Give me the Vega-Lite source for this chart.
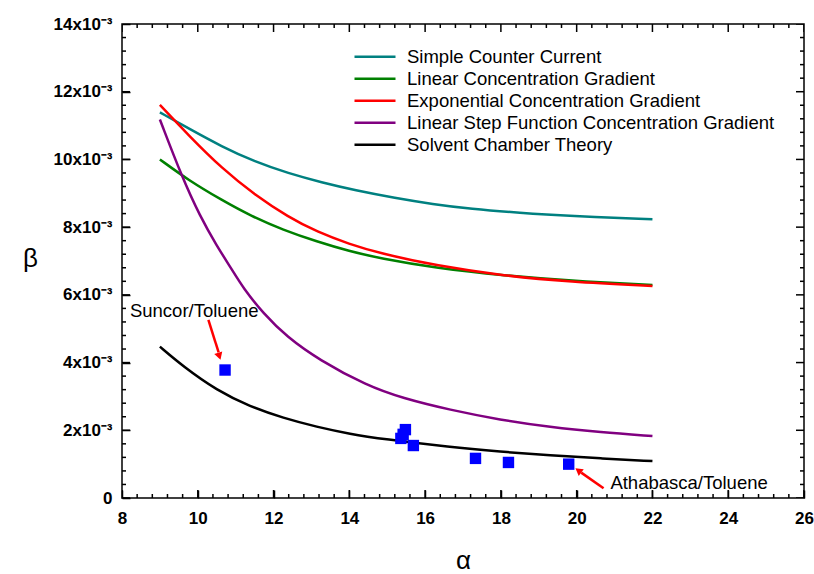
{
  "$schema": "https://vega.github.io/schema/vega-lite/v6.json",
  "width": 682,
  "height": 474,
  "autosize": {"type": "none"},
  "padding": {"left": 122, "top": 24, "right": 10, "bottom": 76},
  "background": "white",
  "config": {
    "view": {"stroke": "black", "strokeWidth": 1.5},
    "font": "Liberation Sans",
    "axis": {
      "domain": false, "ticks": true, "tickColor": "#000000", "tickWidth": 1.5,
      "grid": false, "labelOverlap": false, "labelFlush": false, "labelBound": false,
      "labelFont": "Liberation Sans", "labelFontWeight": "bold", "labelFontSize": 17, "labelColor": "black",
      "titleFont": "Liberation Sans", "titleFontWeight": "normal", "titleFontSize": 26, "titleColor": "black"
    },
    "legend": {
      "orient": "none", "legendX": 231, "legendY": 22, "padding": 0,
      "symbolType": "stroke", "symbolSize": 1681, "symbolStrokeWidth": 2.5,
      "labelFont": "Liberation Sans", "labelFontSize": 18.5, "labelColor": "black", "labelOffset": 10, "labelLimit": 0,
      "clipHeight": 21.7, "rowPadding": 0
    }
  },
  "datasets": {
    "curves": [
      {"series": "Simple Counter Current", "alpha": 9, "beta": 0.01139},
      {"series": "Simple Counter Current", "alpha": 9.75, "beta": 0.01092},
      {"series": "Simple Counter Current", "alpha": 10.63, "beta": 0.01038},
      {"series": "Simple Counter Current", "alpha": 11.51, "beta": 0.00993},
      {"series": "Simple Counter Current", "alpha": 12.39, "beta": 0.00959},
      {"series": "Simple Counter Current", "alpha": 13.27, "beta": 0.00932},
      {"series": "Simple Counter Current", "alpha": 14.15, "beta": 0.00909},
      {"series": "Simple Counter Current", "alpha": 15.21, "beta": 0.00886},
      {"series": "Simple Counter Current", "alpha": 16.2, "beta": 0.00868},
      {"series": "Simple Counter Current", "alpha": 17.2, "beta": 0.00854},
      {"series": "Simple Counter Current", "alpha": 18.5, "beta": 0.00842},
      {"series": "Simple Counter Current", "alpha": 19.8, "beta": 0.00833},
      {"series": "Simple Counter Current", "alpha": 22, "beta": 0.00823},
      {"series": "Linear Concentration Gradient", "alpha": 9, "beta": 0.01000},
      {"series": "Linear Concentration Gradient", "alpha": 9.75, "beta": 0.00939},
      {"series": "Linear Concentration Gradient", "alpha": 10.63, "beta": 0.00880},
      {"series": "Linear Concentration Gradient", "alpha": 11.42, "beta": 0.00832},
      {"series": "Linear Concentration Gradient", "alpha": 12.25, "beta": 0.00792},
      {"series": "Linear Concentration Gradient", "alpha": 13.15, "beta": 0.00757},
      {"series": "Linear Concentration Gradient", "alpha": 14, "beta": 0.00729},
      {"series": "Linear Concentration Gradient", "alpha": 14.8, "beta": 0.00708},
      {"series": "Linear Concentration Gradient", "alpha": 16.3, "beta": 0.00679},
      {"series": "Linear Concentration Gradient", "alpha": 18.1, "beta": 0.00657},
      {"series": "Linear Concentration Gradient", "alpha": 19.8, "beta": 0.00642},
      {"series": "Linear Concentration Gradient", "alpha": 22, "beta": 0.00629},
      {"series": "Exponential Concentration Gradient", "alpha": 9, "beta": 0.01161},
      {"series": "Exponential Concentration Gradient", "alpha": 9.75, "beta": 0.01072},
      {"series": "Exponential Concentration Gradient", "alpha": 10.63, "beta": 0.00974},
      {"series": "Exponential Concentration Gradient", "alpha": 11.51, "beta": 0.00895},
      {"series": "Exponential Concentration Gradient", "alpha": 12.39, "beta": 0.00830},
      {"series": "Exponential Concentration Gradient", "alpha": 13.15, "beta": 0.00786},
      {"series": "Exponential Concentration Gradient", "alpha": 14, "beta": 0.00750},
      {"series": "Exponential Concentration Gradient", "alpha": 14.8, "beta": 0.00723},
      {"series": "Exponential Concentration Gradient", "alpha": 16.3, "beta": 0.00686},
      {"series": "Exponential Concentration Gradient", "alpha": 18.1, "beta": 0.00656},
      {"series": "Exponential Concentration Gradient", "alpha": 19.8, "beta": 0.00639},
      {"series": "Exponential Concentration Gradient", "alpha": 22, "beta": 0.00626},
      {"series": "Linear Step Function Concentration Gradient", "alpha": 9, "beta": 0.01118},
      {"series": "Linear Step Function Concentration Gradient", "alpha": 9.58, "beta": 0.00949},
      {"series": "Linear Step Function Concentration Gradient", "alpha": 10.06, "beta": 0.00832},
      {"series": "Linear Step Function Concentration Gradient", "alpha": 10.5, "beta": 0.00745},
      {"series": "Linear Step Function Concentration Gradient", "alpha": 10.9, "beta": 0.00675},
      {"series": "Linear Step Function Concentration Gradient", "alpha": 11.2, "beta": 0.00620},
      {"series": "Linear Step Function Concentration Gradient", "alpha": 11.73, "beta": 0.00545},
      {"series": "Linear Step Function Concentration Gradient", "alpha": 12.35, "beta": 0.00476},
      {"series": "Linear Step Function Concentration Gradient", "alpha": 13.2, "beta": 0.00408},
      {"series": "Linear Step Function Concentration Gradient", "alpha": 14.46, "beta": 0.00332},
      {"series": "Linear Step Function Concentration Gradient", "alpha": 15.4, "beta": 0.00295},
      {"series": "Linear Step Function Concentration Gradient", "alpha": 16.66, "beta": 0.00260},
      {"series": "Linear Step Function Concentration Gradient", "alpha": 17.98, "beta": 0.00231},
      {"series": "Linear Step Function Concentration Gradient", "alpha": 19.3, "beta": 0.00209},
      {"series": "Linear Step Function Concentration Gradient", "alpha": 20.63, "beta": 0.00194},
      {"series": "Linear Step Function Concentration Gradient", "alpha": 22, "beta": 0.00183},
      {"series": "Solvent Chamber Theory", "alpha": 9, "beta": 0.00447},
      {"series": "Solvent Chamber Theory", "alpha": 9.62, "beta": 0.00388},
      {"series": "Solvent Chamber Theory", "alpha": 10.5, "beta": 0.00318},
      {"series": "Solvent Chamber Theory", "alpha": 11.38, "beta": 0.00270},
      {"series": "Solvent Chamber Theory", "alpha": 12.26, "beta": 0.00236},
      {"series": "Solvent Chamber Theory", "alpha": 13.14, "beta": 0.00210},
      {"series": "Solvent Chamber Theory", "alpha": 14.02, "beta": 0.00189},
      {"series": "Solvent Chamber Theory", "alpha": 14.9, "beta": 0.00174},
      {"series": "Solvent Chamber Theory", "alpha": 16.66, "beta": 0.00150},
      {"series": "Solvent Chamber Theory", "alpha": 17.98, "beta": 0.00137},
      {"series": "Solvent Chamber Theory", "alpha": 19.3, "beta": 0.00126},
      {"series": "Solvent Chamber Theory", "alpha": 20.63, "beta": 0.00117},
      {"series": "Solvent Chamber Theory", "alpha": 22, "beta": 0.00109}
    ],
    "experiments": [
      {"alpha": 10.72, "beta": 0.00378},
      {"alpha": 15.48, "beta": 0.00202},
      {"alpha": 15.42, "beta": 0.00188},
      {"alpha": 15.36, "beta": 0.00176},
      {"alpha": 15.69, "beta": 0.00155},
      {"alpha": 17.33, "beta": 0.00117},
      {"alpha": 18.2, "beta": 0.00105},
      {"alpha": 19.79, "beta": 0.00100}
    ],
    "arrows": [
      {"name": "Suncor/Toluene", "alpha": 10.28, "beta": 0.00526, "alpha2": 10.55, "beta2": 0.00430},
      {"name": "Athabasca/Toluene", "alpha": 20.71, "beta": 0.00029, "alpha2": 20.12, "beta2": 0.00075}
    ],
    "heads": [
      {"name": "Suncor/Toluene", "alpha": 10.56, "beta": 0.00422},
      {"name": "Athabasca/Toluene", "alpha": 20.07, "beta": 0.00079}
    ],
    "notes": [
      {"label": "Suncor/Toluene", "alpha": 8.21, "beta": 0.00552},
      {"label": "Athabasca/Toluene", "alpha": 20.89, "beta": 0.00045}
    ],
    "xticks": [
      {"alpha": 8, "kind": "major"}, {"alpha": 8.4, "kind": "minor"}, {"alpha": 8.8, "kind": "minor"}, {"alpha": 9.2, "kind": "minor"}, {"alpha": 9.6, "kind": "minor"},
      {"alpha": 10, "kind": "major"}, {"alpha": 10.4, "kind": "minor"}, {"alpha": 10.8, "kind": "minor"}, {"alpha": 11.2, "kind": "minor"}, {"alpha": 11.6, "kind": "minor"},
      {"alpha": 12, "kind": "major"}, {"alpha": 12.4, "kind": "minor"}, {"alpha": 12.8, "kind": "minor"}, {"alpha": 13.2, "kind": "minor"}, {"alpha": 13.6, "kind": "minor"},
      {"alpha": 14, "kind": "major"}, {"alpha": 14.4, "kind": "minor"}, {"alpha": 14.8, "kind": "minor"}, {"alpha": 15.2, "kind": "minor"}, {"alpha": 15.6, "kind": "minor"},
      {"alpha": 16, "kind": "major"}, {"alpha": 16.4, "kind": "minor"}, {"alpha": 16.8, "kind": "minor"}, {"alpha": 17.2, "kind": "minor"}, {"alpha": 17.6, "kind": "minor"},
      {"alpha": 18, "kind": "major"}, {"alpha": 18.4, "kind": "minor"}, {"alpha": 18.8, "kind": "minor"}, {"alpha": 19.2, "kind": "minor"}, {"alpha": 19.6, "kind": "minor"},
      {"alpha": 20, "kind": "major"}, {"alpha": 20.4, "kind": "minor"}, {"alpha": 20.8, "kind": "minor"}, {"alpha": 21.2, "kind": "minor"}, {"alpha": 21.6, "kind": "minor"},
      {"alpha": 22, "kind": "major"}, {"alpha": 22.4, "kind": "minor"}, {"alpha": 22.8, "kind": "minor"}, {"alpha": 23.2, "kind": "minor"}, {"alpha": 23.6, "kind": "minor"},
      {"alpha": 24, "kind": "major"}, {"alpha": 24.4, "kind": "minor"}, {"alpha": 24.8, "kind": "minor"}, {"alpha": 25.2, "kind": "minor"}, {"alpha": 25.6, "kind": "minor"},
      {"alpha": 26, "kind": "major"}
    ],
    "yticks": [
      {"beta": 0, "kind": "major"}, {"beta": 0.0004, "kind": "minor"}, {"beta": 0.0008, "kind": "minor"}, {"beta": 0.0012, "kind": "minor"}, {"beta": 0.0016, "kind": "minor"},
      {"beta": 0.002, "kind": "major"}, {"beta": 0.0024, "kind": "minor"}, {"beta": 0.0028, "kind": "minor"}, {"beta": 0.0032, "kind": "minor"}, {"beta": 0.0036, "kind": "minor"},
      {"beta": 0.004, "kind": "major"}, {"beta": 0.0044, "kind": "minor"}, {"beta": 0.0048, "kind": "minor"}, {"beta": 0.0052, "kind": "minor"}, {"beta": 0.0056, "kind": "minor"},
      {"beta": 0.006, "kind": "major"}, {"beta": 0.0064, "kind": "minor"}, {"beta": 0.0068, "kind": "minor"}, {"beta": 0.0072, "kind": "minor"}, {"beta": 0.0076, "kind": "minor"},
      {"beta": 0.008, "kind": "major"}, {"beta": 0.0084, "kind": "minor"}, {"beta": 0.0088, "kind": "minor"}, {"beta": 0.0092, "kind": "minor"}, {"beta": 0.0096, "kind": "minor"},
      {"beta": 0.01, "kind": "major"}, {"beta": 0.0104, "kind": "minor"}, {"beta": 0.0108, "kind": "minor"}, {"beta": 0.0112, "kind": "minor"}, {"beta": 0.0116, "kind": "minor"},
      {"beta": 0.012, "kind": "major"}, {"beta": 0.0124, "kind": "minor"}, {"beta": 0.0128, "kind": "minor"}, {"beta": 0.0132, "kind": "minor"}, {"beta": 0.0136, "kind": "minor"},
      {"beta": 0.014, "kind": "major"}
    ]
  },
  "resolve": {"axis": {"x": "independent", "y": "independent"}},
  "layer": [
    {
      "data": {"name": "curves"},
      "mark": {"type": "line", "strokeWidth": 2.5, "interpolate": "basis"},
      "encoding": {
        "x": {"field": "alpha", "type": "quantitative", "scale": {"domain": [8, 26], "nice": false, "zero": false},
          "axis": {"orient": "bottom", "offset": -8, "tickSize": 8, "labelPadding": 12,
            "title": "α", "titleY": 83, "titleBaseline": "bottom",
            "values": [8, 10, 12, 14, 16, 18, 20, 22, 24, 26], "format": "d"}},
        "y": {"field": "beta", "type": "quantitative", "scale": {"domain": [0, 0.014], "nice": false},
          "axis": {"orient": "left", "offset": -8, "tickSize": 8, "labelPadding": 10,
            "title": "β", "titleAngle": 0, "titleX": -100, "titleY": 234, "titleAlign": "center", "titleBaseline": "middle",
            "values": [0, 0.002, 0.004, 0.006, 0.008, 0.01, 0.012, 0.014],
            "labelExpr": "datum.value == 0 ? '0' : format(datum.value*1000, 'd') + 'x10⁻³'"}},
        "color": {"field": "series", "type": "nominal", "title": null,
          "scale": {"domain": ["Simple Counter Current", "Linear Concentration Gradient", "Exponential Concentration Gradient", "Linear Step Function Concentration Gradient", "Solvent Chamber Theory"],
            "range": ["#008080", "#008000", "#ff0000", "#800080", "#000000"]}}
      }
    },
    {
      "data": {"name": "xticks"},
      "mark": {"type": "tick", "orient": "vertical", "thickness": 1.5, "color": "black", "clip": true, "opacity": 1},
      "encoding": {
        "x": {"field": "alpha", "type": "quantitative", "axis": null},
        "y": {"datum": 0, "type": "quantitative", "axis": null},
        "size": {"field": "kind", "type": "nominal", "scale": {"domain": ["major", "minor"], "range": [16, 8]}, "legend": null}
      }
    },
    {
      "data": {"name": "xticks"},
      "mark": {"type": "tick", "orient": "vertical", "thickness": 1.5, "color": "black", "clip": true, "opacity": 1},
      "encoding": {
        "x": {"field": "alpha", "type": "quantitative", "axis": null},
        "y": {"datum": 0.014, "type": "quantitative", "axis": null},
        "size": {"field": "kind", "type": "nominal", "legend": null}
      }
    },
    {
      "data": {"name": "yticks"},
      "mark": {"type": "tick", "orient": "horizontal", "thickness": 1.5, "color": "black", "clip": true, "opacity": 1},
      "encoding": {
        "y": {"field": "beta", "type": "quantitative", "axis": null},
        "x": {"datum": 8, "type": "quantitative", "axis": null},
        "size": {"field": "kind", "type": "nominal", "legend": null}
      }
    },
    {
      "data": {"name": "yticks"},
      "mark": {"type": "tick", "orient": "horizontal", "thickness": 1.5, "color": "black", "clip": true, "opacity": 1},
      "encoding": {
        "y": {"field": "beta", "type": "quantitative", "axis": null},
        "x": {"datum": 26, "type": "quantitative", "axis": null},
        "size": {"field": "kind", "type": "nominal", "legend": null}
      }
    },
    {
      "data": {"name": "experiments"},
      "mark": {"type": "point", "shape": "square", "filled": true, "color": "#0000ff", "size": 130, "opacity": 1},
      "encoding": {
        "x": {"field": "alpha", "type": "quantitative", "axis": null},
        "y": {"field": "beta", "type": "quantitative", "axis": null}
      }
    },
    {
      "data": {"name": "arrows"},
      "mark": {"type": "rule", "color": "#ff0000", "strokeWidth": 2.5},
      "encoding": {
        "x": {"field": "alpha", "type": "quantitative", "axis": null},
        "y": {"field": "beta", "type": "quantitative", "axis": null},
        "x2": {"field": "alpha2"},
        "y2": {"field": "beta2"}
      }
    },
    {
      "data": {"name": "heads"},
      "transform": [{"filter": "datum.name == 'Suncor/Toluene'"}],
      "mark": {"type": "point", "shape": "triangle", "filled": true, "color": "#ff0000", "size": 70, "angle": 162, "opacity": 1},
      "encoding": {
        "x": {"field": "alpha", "type": "quantitative", "axis": null},
        "y": {"field": "beta", "type": "quantitative", "axis": null}
      }
    },
    {
      "data": {"name": "heads"},
      "transform": [{"filter": "datum.name == 'Athabasca/Toluene'"}],
      "mark": {"type": "point", "shape": "triangle", "filled": true, "color": "#ff0000", "size": 70, "angle": 307, "opacity": 1},
      "encoding": {
        "x": {"field": "alpha", "type": "quantitative", "axis": null},
        "y": {"field": "beta", "type": "quantitative", "axis": null}
      }
    },
    {
      "data": {"name": "notes"},
      "mark": {"type": "text", "align": "left", "baseline": "middle", "font": "Liberation Sans", "fontSize": 18.5, "color": "black"},
      "encoding": {
        "x": {"field": "alpha", "type": "quantitative", "axis": null},
        "y": {"field": "beta", "type": "quantitative", "axis": null},
        "text": {"field": "label"}
      }
    }
  ]
}
